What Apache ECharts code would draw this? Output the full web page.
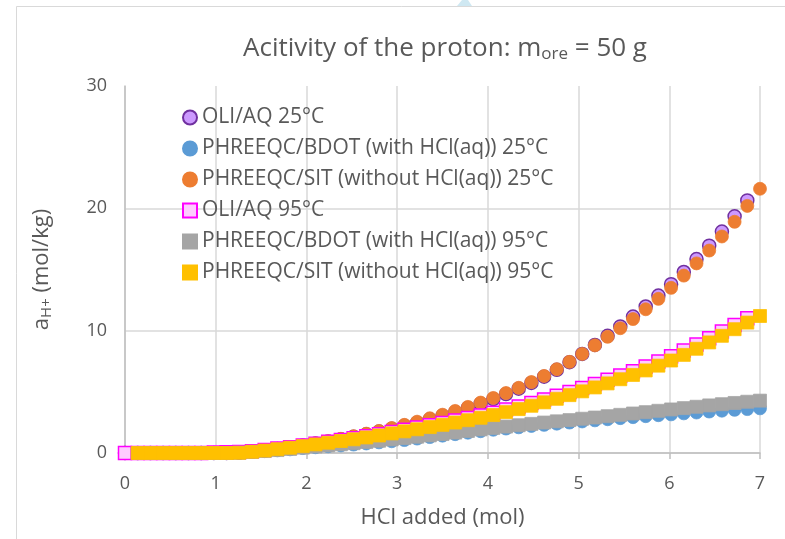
<!DOCTYPE html>
<html>
<head>
<meta charset="utf-8">
<script src="https://cdn.jsdelivr.net/npm/echarts@6/dist/echarts.min.js"></script>
<style>
html,body{margin:0;padding:0;background:#fff;}
#c{width:785px;height:539px;}
</style>
</head>
<body>
<div id="c"></div>
<script>
// HCl added (mol) for OLI/AQ series
const xOli = [0,0.14,0.28,0.42,0.56,0.70,0.84,0.98,1.12,1.26,1.40,1.54,1.68,1.82,1.96,2.10,2.24,2.38,2.52,2.66,2.80,2.94,3.08,3.22,3.36,3.50,3.64,3.78,3.92,4.06,4.20,4.34,4.48,4.62,4.76,4.90,5.04,5.18,5.32,5.46,5.60,5.74,5.88,6.02,6.16,6.30,6.44,6.58,6.72,6.86];
// HCl added (mol) for PHREEQC series
const xPhr = [0.14,0.28,0.42,0.56,0.70,0.84,0.98,1.12,1.26,1.40,1.54,1.68,1.82,1.96,2.10,2.24,2.38,2.52,2.66,2.80,2.94,3.08,3.22,3.36,3.50,3.64,3.78,3.92,4.06,4.20,4.34,4.48,4.62,4.76,4.90,5.04,5.18,5.32,5.46,5.60,5.74,5.88,6.02,6.16,6.30,6.44,6.58,6.72,6.86,7.00];

const oli25 = [0,0,0,0,0,0,0,0,0,0.03,0.11,0.21,0.33,0.47,0.62,0.78,0.95,1.13,1.33,1.53,1.75,1.98,2.22,2.48,2.75,3.04,3.35,3.68,4.03,4.41,4.82,5.26,5.73,6.24,6.8,7.42,8.1,8.83,9.58,10.35,11.15,11.98,12.87,13.8,14.8,15.85,16.95,18.1,19.35,20.65];
const bdot25 = [0,0,0,0,0,0,0,0,0.02,0.08,0.15,0.22,0.3,0.4,0.47,0.55,0.62,0.69,0.78,0.87,0.96,1.06,1.18,1.3,1.42,1.54,1.66,1.78,1.9,2.0,2.1,2.21,2.3,2.4,2.49,2.58,2.67,2.76,2.85,2.93,3.01,3.09,3.16,3.24,3.31,3.39,3.46,3.53,3.59,3.65];
const sit25 = [0,0,0,0,0,0,0,0,0.02,0.1,0.2,0.32,0.46,0.62,0.79,0.97,1.16,1.37,1.58,1.8,2.04,2.3,2.56,2.84,3.13,3.44,3.77,4.12,4.5,4.9,5.33,5.8,6.3,6.85,7.45,8.1,8.8,9.5,10.2,10.95,11.75,12.6,13.5,14.5,15.5,16.55,17.7,18.9,20.2,21.6];
const oli95 = [0,0,0,0,0,0,0,0.04,0.06,0.08,0.14,0.24,0.36,0.48,0.62,0.76,0.91,1.06,1.21,1.37,1.54,1.72,1.9,2.08,2.27,2.46,2.66,2.86,3.07,3.3,3.55,3.81,4.09,4.38,4.68,4.99,5.31,5.64,5.98,6.33,6.69,7.07,7.47,7.9,8.37,8.87,9.39,9.93,10.47,11.01];
const bdot95 = [0,0,0,0,0,0,0,0,0.02,0.09,0.16,0.24,0.33,0.44,0.53,0.62,0.71,0.8,0.9,1.0,1.11,1.22,1.33,1.44,1.55,1.67,1.8,1.93,2.05,2.16,2.27,2.38,2.49,2.59,2.69,2.8,2.9,3.01,3.12,3.23,3.34,3.45,3.56,3.67,3.78,3.89,3.99,4.09,4.19,4.28];
const sit95 = [0,0,0,0,0,0,0,0,0.02,0.1,0.2,0.31,0.43,0.56,0.7,0.84,0.98,1.12,1.27,1.43,1.6,1.77,1.94,2.12,2.3,2.49,2.68,2.88,3.1,3.34,3.59,3.86,4.14,4.43,4.73,5.04,5.36,5.69,6.03,6.38,6.75,7.14,7.56,8.02,8.52,9.04,9.58,10.12,10.66,11.2];

const seriesNames = ['OLI/AQ 25°C','PHREEQC/BDOT (with HCl(aq)) 25°C','PHREEQC/SIT (without HCl(aq)) 25°C','OLI/AQ 95°C','PHREEQC/BDOT (with HCl(aq)) 95°C','PHREEQC/SIT (without HCl(aq)) 95°C'];
const xTicks = [0,1,2,3,4,5,6,7];
const yTicks = [0,10,20,30];

const FONT = 'Open Sans';
const TXT = '#595959';
function pairs(xs, ys){ return ys.map((v,i)=>[xs[i], v]); }

const styles = [
  {symbol:'circle', color:'#CC99FF', border:'#7030A0', bw:1.5, x:xOli, y:oli25},
  {symbol:'circle', color:'#5B9BD5', border:'#5B9BD5', bw:0.75, x:xPhr, y:bdot25},
  {symbol:'circle', color:'#ED7D31', border:'#ED7D31', bw:0.75, x:xPhr, y:sit25},
  {symbol:'rect', color:'#FFCCFF', border:'#FF00FF', bw:1.5, x:xOli, y:oli95},
  {symbol:'rect', color:'#A5A5A5', border:'#A5A5A5', bw:0.75, x:xPhr, y:bdot95},
  {symbol:'rect', color:'#FFC000', border:'#FFC000', bw:0.75, x:xPhr, y:sit95}
];

const chart = echarts.init(document.getElementById('c'), null, {renderer:'canvas'});
chart.setOption({
  animation:false,
  backgroundColor:'#fff',
  graphic:[
    {type:'rect', shape:{x:16.5, y:6.5, width:820, height:600}, style:{fill:'none', stroke:'#d9d9d9', lineWidth:1}, z:-10},
    {type:'polygon', shape:{points:[[457,6],[462,0],[468,0],[472,6]]}, style:{fill:'#cfe8f2'}, z:-9}
  ],
  title:{
    text:'Acitivity of the proton: m{sub|ore} = 50 g',
    left:440, top:29, textAlign:'center',
    textStyle:{
      fontFamily:FONT, fontSize:26, fontWeight:'normal', color:TXT,
      rich:{sub:{fontFamily:FONT, fontSize:17, color:TXT, verticalAlign:'bottom', padding:[12,0,0,0]}}
    }
  },
  legend:{
    orient:'vertical', left:182, top:107, padding:0,
    itemWidth:14, itemHeight:14, itemGap:10,
    textStyle:{fontFamily:FONT, fontSize:21, lineHeight:20, color:TXT},
    data:seriesNames
  },
  grid:{left:125, right:25, top:86, bottom:86, containLabel:false},
  xAxis:{
    type:'value', min:xTicks[0], max:xTicks[xTicks.length-1], interval:1,
    name:'HCl added (mol)', nameLocation:'middle', nameGap:54,
    nameTextStyle:{fontFamily:FONT, fontSize:22, color:TXT},
    axisLine:{show:true, lineStyle:{color:'#bfbfbf', width:1.5}},
    axisTick:{show:true, length:6, lineStyle:{color:'#bfbfbf', width:1.5}},
    axisLabel:{fontFamily:FONT, fontSize:18, color:TXT, margin:22},
    splitLine:{show:true, lineStyle:{color:'#d9d9d9', width:1.5}}
  },
  yAxis:{
    type:'value', min:yTicks[0], max:yTicks[yTicks.length-1], interval:10,
    name:'{a|a}{s|H+}{a| (mol/kg)}', nameLocation:'middle', nameGap:71, nameRotate:90,
    nameTextStyle:{fontFamily:FONT, fontSize:22, color:TXT,
      rich:{a:{fontFamily:FONT, fontSize:22, color:TXT}, s:{fontFamily:FONT, fontSize:15, color:TXT, verticalAlign:'bottom', padding:[9,0,0,0]}}},
    axisLine:{show:true, lineStyle:{color:'#bfbfbf', width:1.5}},
    axisTick:{show:false},
    axisLabel:{fontFamily:FONT, fontSize:18, color:TXT, margin:18},
    splitLine:{show:true, showMaxLine:false, lineStyle:{color:'#d9d9d9', width:1.5}}
  },
  series: styles.map((s,i)=>({
    name:seriesNames[i], type:'scatter', symbol:s.symbol, symbolSize:13, clip:false,
    itemStyle:{color:s.color, borderColor:s.border, borderWidth:s.bw, opacity:1},
    emphasis:{disabled:true},
    data:pairs(s.x, s.y)
  }))
});
</script>
</body>
</html>
